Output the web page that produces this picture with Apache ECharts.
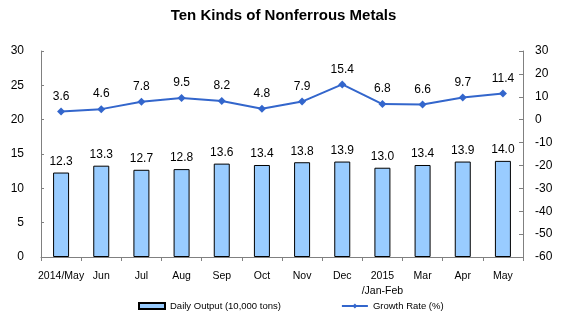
<!DOCTYPE html>
<html><head><meta charset="utf-8">
<script src="https://cdn.jsdelivr.net/npm/echarts@6/dist/echarts.min.js"></script>
<style>html,body{margin:0;padding:0;background:#fff}#c{width:567px;height:328px}</style>
</head><body><div id="c"></div>
<script>
var categories = ['2014/May','Jun','Jul','Aug','Sep','Oct','Nov','Dec','2015\n/Jan-Feb','Mar','Apr','May'];
var dailyOutput = [12.3,13.3,12.7,12.8,13.6,13.4,13.8,13.9,13.0,13.4,13.9,14.0];
var growthRate = [3.6,4.6,7.8,9.5,8.2,4.8,7.9,15.4,6.8,6.6,9.7,11.4];
var leftTicks = {min:0, max:30, interval:5};
var rightTicks = {min:-60, max:30, interval:10};
var FONT = "'Liberation Sans', Arial, sans-serif";
var chart = echarts.init(document.getElementById('c'), null, {renderer:'canvas'});
var axisCol = '#808080';
chart.setOption({
  animation:false,
  backgroundColor:'#fff',
  textStyle:{fontFamily:FONT},
  title:{text:'Ten Kinds of Nonferrous Metals', left:'center', top:8, padding:0,
    textStyle:{fontFamily:FONT, fontSize:15, fontWeight:'bold', color:'#000'}},
  grid:{left:41, right:44, top:51, bottom:71},
  legend:{bottom:12, left:133, itemGap:60, itemWidth:26, itemHeight:6,
    textStyle:{fontFamily:FONT, fontSize:9.5, color:'#000'},
    data:[{name:'Daily Output (10,000 tons)', icon:'rect'}, {name:'Growth Rate (%)'}]},
  xAxis:{type:'category', data:categories,
    axisLine:{lineStyle:{color:axisCol}},
    axisTick:{show:true, length:4, lineStyle:{color:axisCol}},
    axisLabel:{fontFamily:FONT, fontSize:10.5, color:'#000', margin:12, lineHeight:15, interval:0}},
  yAxis:[
    {type:'value', min:leftTicks.min, max:leftTicks.max, interval:leftTicks.interval,
     splitLine:{show:false},
     axisLine:{show:true, lineStyle:{color:axisCol}},
     axisTick:{show:true, inside:true, length:3, lineStyle:{color:axisCol}},
     axisLabel:{fontFamily:FONT, fontSize:12, color:'#000', margin:17}},
    {type:'value', min:rightTicks.min, max:rightTicks.max, interval:rightTicks.interval,
     splitLine:{show:false},
     axisLine:{show:true, lineStyle:{color:axisCol}},
     axisTick:{show:true, inside:true, length:4, lineStyle:{color:axisCol}},
     axisLabel:{fontFamily:FONT, fontSize:12, color:'#000', margin:12}}
  ],
  series:[
    {name:'Daily Output (10,000 tons)', type:'bar', data:dailyOutput, barWidth:16, yAxisIndex:0,
     itemStyle:{color:'#99CCFF', borderColor:'#000', borderWidth:1},
     label:{show:true, position:'top', distance:5, fontFamily:FONT, fontSize:12, color:'#000',
       formatter:function(p){return p.value.toFixed(1);}}},
    {name:'Growth Rate (%)', type:'line', data:growthRate, yAxisIndex:1,
     symbol:'diamond', symbolSize:8, showAllSymbol:true,
     lineStyle:{color:'#3366CC', width:2}, itemStyle:{color:'#3366CC'},
     label:{show:true, position:'top', distance:5, fontFamily:FONT, fontSize:12, color:'#000',
       formatter:function(p){return p.value.toFixed(1);}}}
  ]
});
</script></body></html>
